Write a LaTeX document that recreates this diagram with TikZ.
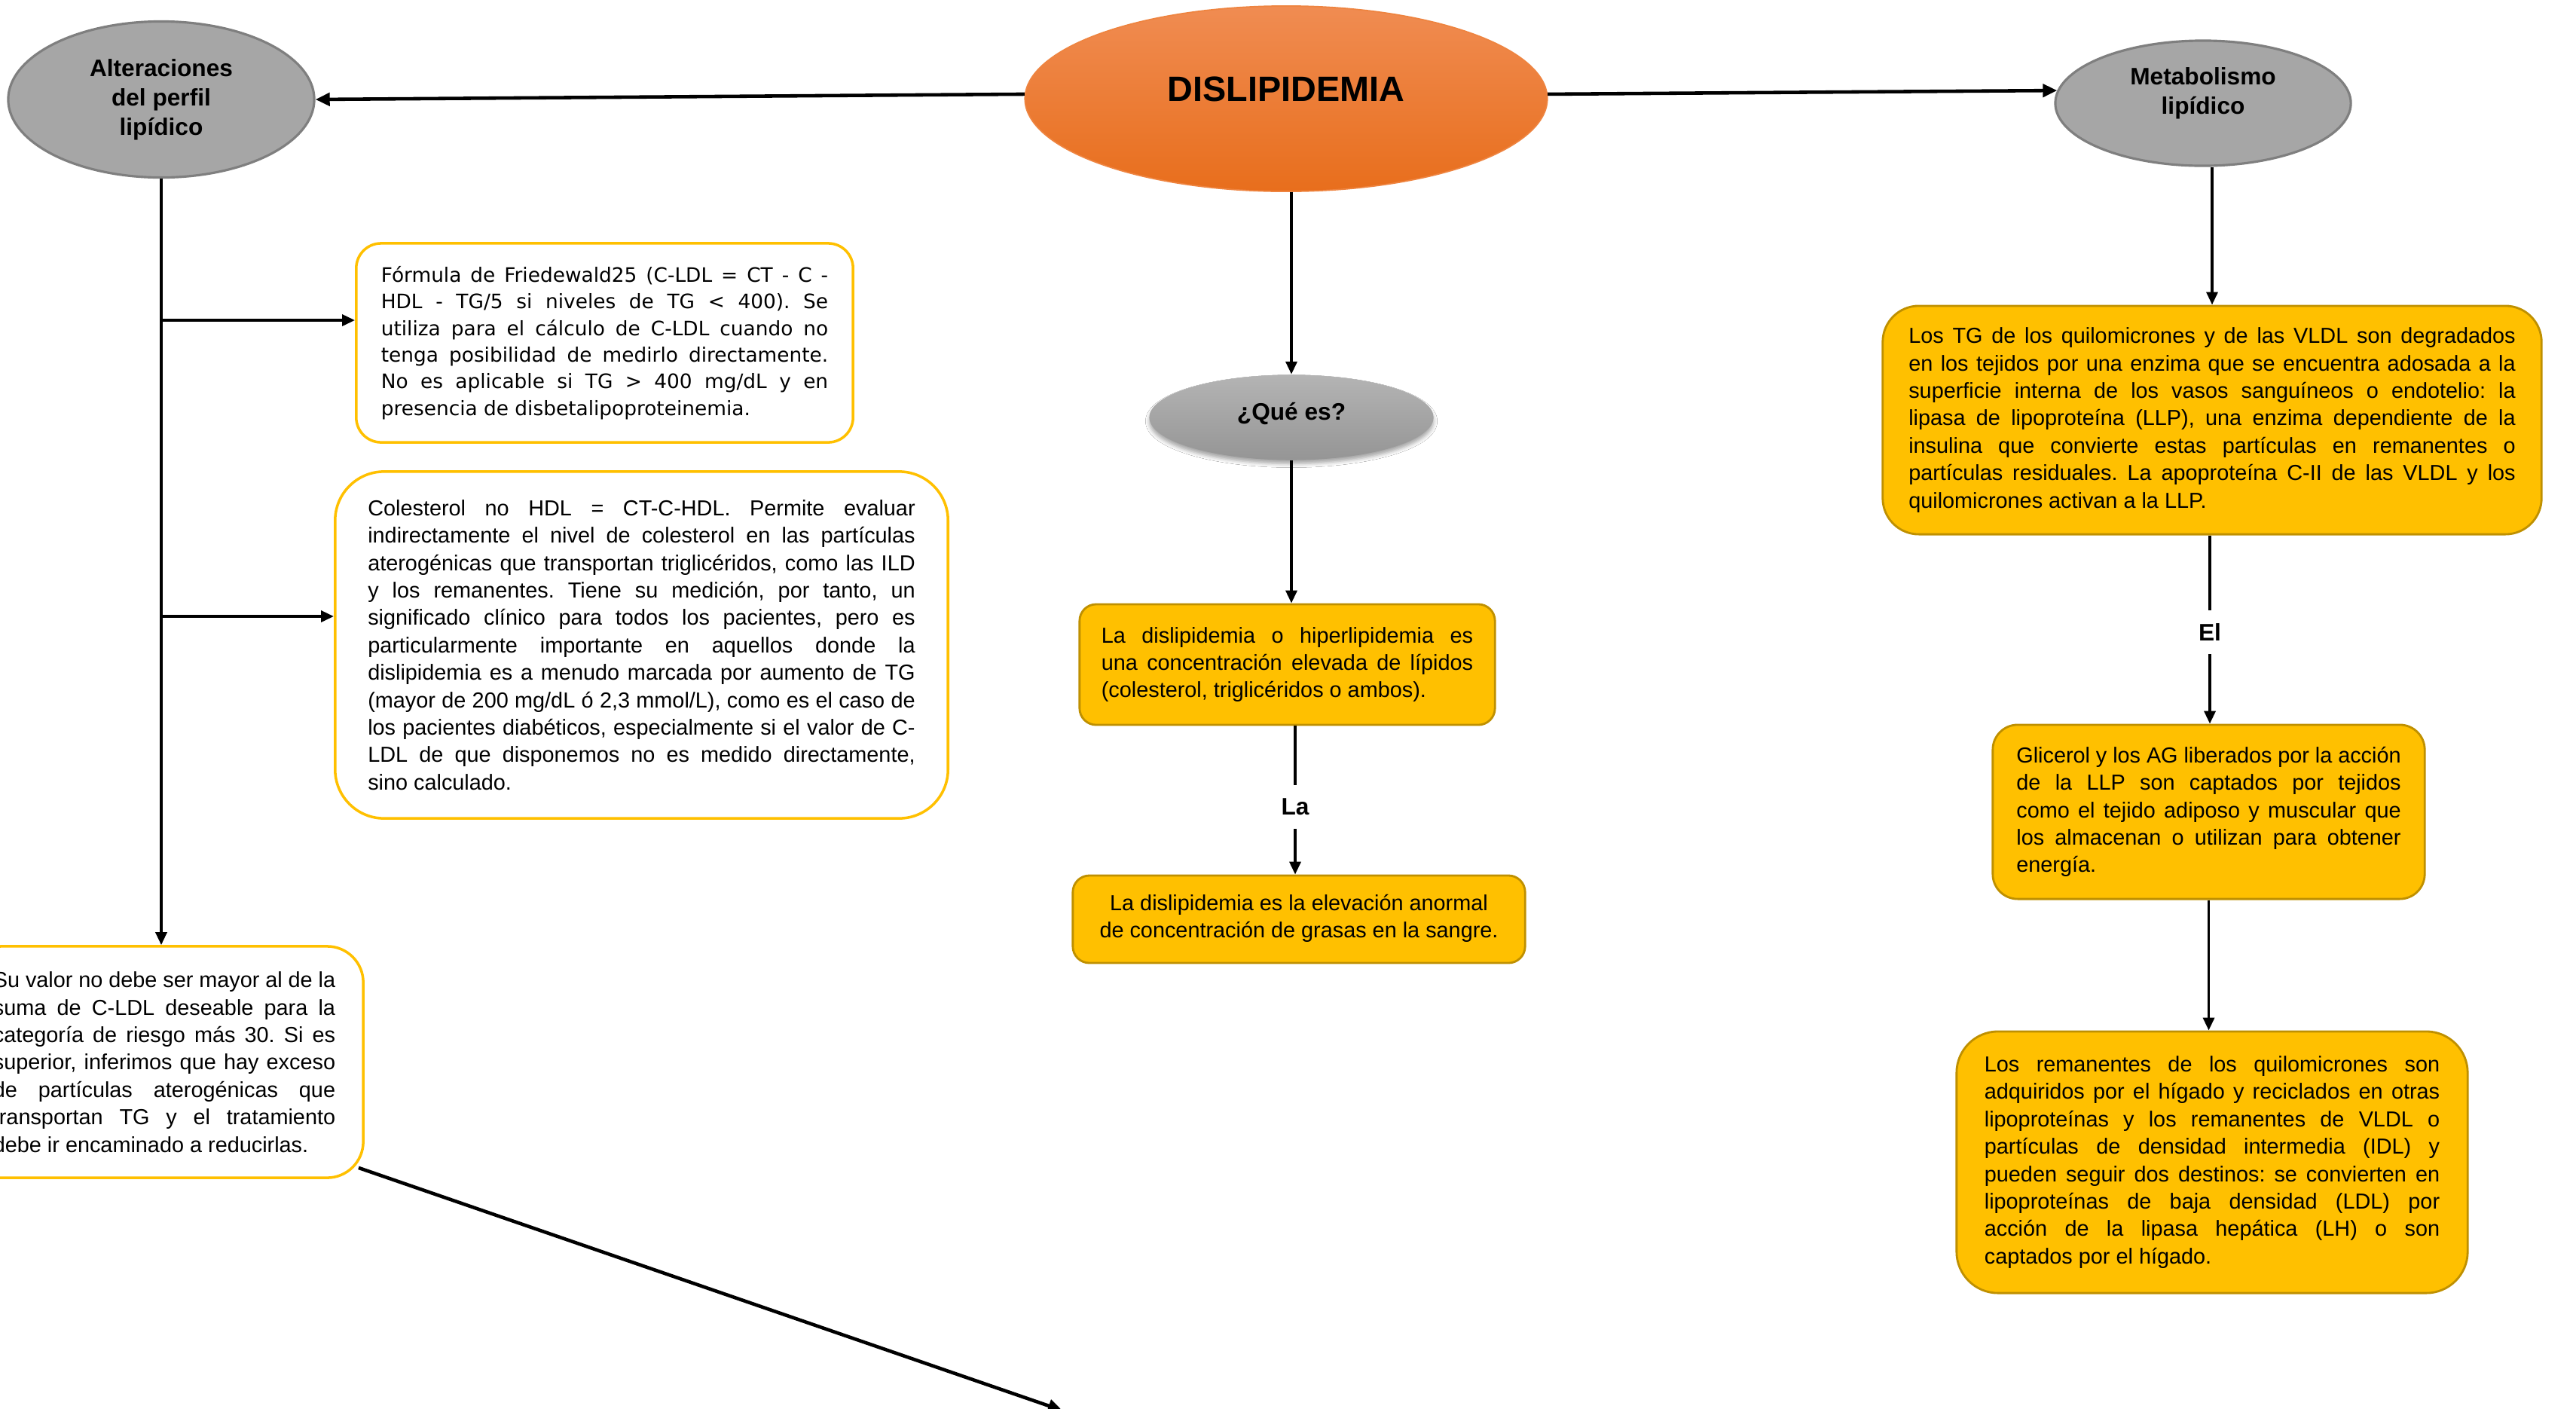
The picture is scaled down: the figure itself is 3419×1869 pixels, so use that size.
\documentclass[tikz,border=0pt]{standalone}
\usepackage{fontspec}
\setmainfont{Liberation Sans}
\newfontfamily\verd{DejaVu Sans}
\usetikzlibrary{arrows.meta,shapes.geometric,calc,shadows.blur}
\definecolor{dtop}{HTML}{F08C52}
\definecolor{dbot}{HTML}{E86E1C}
\definecolor{dedge}{HTML}{EE8440}
\definecolor{gfill}{HTML}{A6A6A6}
\definecolor{gedge}{HTML}{7F7F7F}
\definecolor{qtop}{HTML}{B4B4B4}
\definecolor{qbot}{HTML}{959595}
\definecolor{gold}{HTML}{FFC000}
\definecolor{goldedge}{HTML}{BF9000}
\frenchspacing
\newcommand{\nohyph}{\hyphenpenalty=10000\relax\exhyphenpenalty=10000\relax}
\tikzset{
  bodyfont/.style={font=\fontsize{8.2}{10.35}\selectfont\nohyph},
  ybox/.style={draw=goldedge, fill=gold, line width=0.8pt, inner sep=0pt, align=justify, bodyfont},
  wbox/.style={draw=gold, fill=white, line width=1pt, inner sep=0pt, align=justify, bodyfont},
  grayell/.style={ellipse, draw=gedge, fill=gfill, line width=0.9pt, inner sep=0pt},
  ttl/.style={font=\bfseries\fontsize{9}{11.1}\selectfont, inner sep=0pt, align=center},
  lbl/.style={font=\bfseries\fontsize{9}{11}\selectfont, inner sep=0pt, minimum height=0.57cm},
  ln/.style={line width=1pt},
  arr/.style={line width=1pt, -{Triangle[length=0.17cm,width=0.15cm]}},
  arrthick/.style={line width=1.3pt, -{Triangle[length=0.19cm,width=0.17cm]}},
}
\begin{document}
\begin{tikzpicture}[x=0.01cm,y=-0.01cm]
\useasboundingbox (0,0) rectangle (3419,1869);
\fill[white] (0,0) rectangle (3419,1869);

% central node
\node[ellipse, minimum width=6.93cm, minimum height=2.46cm, top color=dtop, bottom color=dbot, draw=dedge, line width=0.5pt, inner sep=0pt] (dis) at (1707,131) {};
\node[font=\bfseries\fontsize{13.3}{16}\selectfont, inner sep=0pt] (dist) at (1707,118) {DISLIPIDEMIA};

% left title
\node[grayell, ttl, minimum width=4.06cm, minimum height=2.07cm] (alt) at (214,132) {Alteraciones\\del perfil\\lipídico};

% right title
\node[grayell, minimum width=3.92cm, minimum height=1.66cm] (met) at (2924,137) {};
\node[ttl] (mett) at (2924,124) {Metabolismo\\lipídico};

% que es
\node[ellipse, minimum width=3.77cm, minimum height=1.13cm, top color=qtop, bottom color=qbot, inner sep=0pt,
  blur shadow={shadow xshift=0cm, shadow yshift=-0.05cm, shadow blur radius=0.05cm, shadow opacity=35}] (que) at (1714,554) {};
\node[ttl] (quet) at (1714,549) {¿Qué es?};

% middle boxes
\node[ybox, rounded corners=0.22cm, minimum width=5.51cm, minimum height=1.60cm, text width=4.93cm] (box5) at (1708.5,882)
 {La dislipidemia o hiperlipidemia es\linebreak una concentración elevada de lípidos\linebreak (colesterol, triglicéridos o ambos).};
\node[lbl] (La) at (1719,1071) {La};
\node[ybox, align=center, rounded corners=0.22cm, minimum width=6.00cm, minimum height=1.16cm] (box6) at (1724,1220)
 {La dislipidemia es la elevación anormal\\de concentración de grasas en la sangre.\\[-0.28cm]\mbox{}};

% left boxes
\node[wbox, rounded corners=0.33cm, minimum width=6.59cm, minimum height=2.64cm, text width=5.93cm,
  font=\verd\fontsize{7.5}{10.05}\selectfont\nohyph] (fried) at (802.5,455)
 {Fórmula de Friedewald25 (C-LDL = CT - C -\linebreak HDL - TG/5 si niveles de TG < 400). Se\linebreak utiliza para el cálculo de C-LDL cuando no\linebreak tenga posibilidad de medirlo directamente.\linebreak No es aplicable si TG > 400 mg/dL y en\linebreak presencia de disbetalipoproteinemia.};

\node[wbox, rounded corners=0.65cm, minimum width=8.13cm, minimum height=4.60cm, text width=7.26cm] (col) at (851.5,856)
 {Colesterol no HDL = CT-C-HDL. Permite evaluar\linebreak indirectamente el nivel de colesterol en las partículas\linebreak aterogénicas que transportan triglicéridos, como las ILD\linebreak y los remanentes. Tiene su medición, por tanto, un\linebreak significado clínico para todos los pacientes, pero es\linebreak particularmente importante en aquellos donde la\linebreak dislipidemia es a menudo marcada por aumento de TG\linebreak (mayor de 200 mg/dL ó 2,3 mmol/L), como es el caso de\linebreak los pacientes diabéticos, especialmente si el valor de C-\linebreak LDL de que disponemos no es medido directamente,\linebreak sino calculado.};

\node[wbox, rounded corners=0.48cm, minimum width=5.28cm, minimum height=3.07cm, text width=4.54cm] (su) at (218,1409.5)
 {Su valor no debe ser mayor al de la\linebreak suma de C-LDL deseable para la\linebreak categoría de riesgo más 30. Si es\linebreak superior, inferimos que hay exceso\linebreak de partículas aterogénicas que\linebreak transportan TG y el tratamiento\linebreak debe ir encaminado a reducirlas.};

% right boxes
\node[ybox, rounded corners=0.48cm, minimum width=8.74cm, minimum height=3.03cm, text width=8.05cm] (box11) at (2936,557.5)
 {Los TG de los quilomicrones y de las VLDL son degradados\linebreak en los tejidos por una enzima que se encuentra adosada a la\linebreak superficie interna de los vasos sanguíneos o endotelio: la\linebreak lipasa de lipoproteína (LLP), una enzima dependiente de la\linebreak insulina que convierte estas partículas en remanentes o\linebreak partículas residuales. La apoproteína C-II de las VLDL y los\linebreak quilomicrones activan a la LLP.};
\node[lbl] (El) at (2933,839) {El};
\node[ybox, rounded corners=0.33cm, minimum width=5.73cm, minimum height=2.31cm, text width=5.10cm] (glic) at (2931.5,1077.5)
 {Glicerol y los AG liberados por la acción\linebreak de la LLP son captados por tejidos\linebreak como el tejido adiposo y muscular que\linebreak los almacenan o utilizan para obtener\linebreak energía.};
\node[ybox, rounded corners=0.55cm, minimum width=6.78cm, minimum height=3.47cm, text width=6.04cm] (rem) at (2936,1542.5)
 {Los remanentes de los quilomicrones son\linebreak adquiridos por el hígado y reciclados en otras\linebreak lipoproteínas y los remanentes de VLDL o\linebreak partículas de densidad intermedia (IDL) y\linebreak pueden seguir dos destinos: se convierten en\linebreak lipoproteínas de baja densidad (LDL) por\linebreak acción de la lipasa hepática (LH) o son\linebreak captados por el hígado.};

% connectors
\draw[arrthick] (dis.179) -- (alt.east);
\draw[arrthick] (dis.1) -- (met.175);
\draw[arr] (que.north |- dis.south) -- (que.north);
\draw[arr] (que.south) -- (que.south |- box5.north);
\draw[ln] (box5.south -| La) -- (La.north);
\draw[arr] (La.south) -- (La.south |- box6.north);
\draw[arr] (met.south -| box11.north) -- (box11.north);
\draw[ln] (box11.south -| El) -- (El.north);
\draw[arr] (El.south) -- (El.south |- glic.north);
\draw[arr] (glic.south) -- (glic.south |- rem.north);

\coordinate (t1) at (214,425);
\coordinate (t2) at (214,818);
\draw[arr] (alt.south) -- (alt.south |- su.north);
\draw[arr] (t1) -- (t1 -| fried.west);
\draw[arr] (t2) -- (t2 -| col.west);

\coordinate (dend) at (1410,1872);
\draw[arrthick] ($(su.south east)+(-8,-15)$) -- (dend);
\end{tikzpicture}
\end{document}
